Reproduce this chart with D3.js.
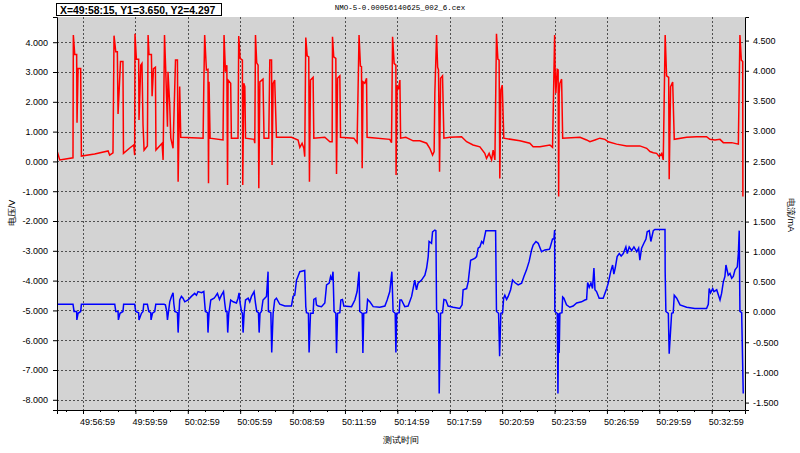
<!DOCTYPE html>
<html>
<head>
<meta charset="utf-8">
<script src="https://cdn.jsdelivr.net/npm/d3@7/dist/d3.min.js"></script>
<style>
  body { margin: 0; background: #fff; }
  svg text { font-family: "Liberation Sans", Arial, sans-serif; fill: #000; }
</style>
</head>
<body>
<div id="chart"></div>
<script>
// file name and cursor readout shown above the plot
var fileName = "NMO-5-0.00056140625_002_6.cex";
var cursorText = "X=49:58:15, Y1=3.650, Y2=4.297";

// x axis: test time, labels as printed
var timeTicks = ["49:56:59", "49:59:59", "50:02:59", "50:05:59", "50:08:59", "50:11:59", "50:14:59",
                 "50:17:59", "50:20:59", "50:23:59", "50:26:59", "50:29:59", "50:32:59"];
var voltTicks = [4, 3, 2, 1, 0, -1, -2, -3, -4, -5, -6, -7, -8];
var currTicks = [4.5, 4, 3.5, 3, 2.5, 2, 1.5, 1, 0.5, 0, -0.5, -1, -1.5];

// voltage (V): [minutes after 49:00:00, value]
var voltage = [
  [55.52,0.31],[55.65,0.05],[56.41,0.12],[56.43,4.24],[56.51,3.59],[56.62,3.59],[56.64,1.30],[56.70,3.12],
  [56.85,3.12],[56.89,0.18],[57.65,0.25],[58.42,0.35],[58.51,0.21],[58.70,0.29],[58.76,4.22],[58.86,3.68],
  [58.95,3.68],[58.99,1.59],[59.13,3.35],[59.27,3.35],[59.30,0.27],[59.66,0.45],[59.89,0.55],[59.94,0.21],
  [59.96,4.28],[60.04,3.43],[60.17,3.43],[60.19,1.39],[60.29,3.23],[60.36,3.29],[60.42,1.22],[60.48,0.38],
  [60.67,0.52],[60.71,4.24],[60.76,3.59],[60.90,3.59],[60.94,2.19],[61.02,3.11],[61.13,3.16],[61.16,0.38],
  [61.51,0.61],[61.57,0.05],[61.65,4.24],[61.72,3.07],[61.82,1.16],[61.85,3.01],[61.95,1.89],[62.01,0.78],
  [62.14,0.44],[62.28,3.40],[62.39,3.40],[62.43,-0.68],[62.52,2.51],[62.58,0.81],[63.86,0.78],[63.90,2.51],
  [63.95,4.24],[64.05,3.07],[64.14,3.09],[64.17,-0.73],[64.20,2.67],[64.26,0.78],[65.00,0.72],[65.06,4.24],
  [65.14,3.01],[65.22,3.23],[65.26,-0.79],[65.29,2.73],[65.44,2.62],[65.48,0.78],[65.86,0.78],[65.90,4.21],
  [65.98,3.46],[66.11,3.40],[66.13,-0.79],[66.19,2.62],[66.25,2.51],[66.29,0.78],[66.78,0.74],[66.82,0.61],
  [66.86,4.24],[66.93,3.31],[67.01,3.23],[67.05,-0.90],[67.11,2.67],[67.29,2.76],[67.35,0.78],[67.62,0.78],
  [67.68,3.40],[67.78,3.40],[67.81,-0.12],[67.87,2.62],[67.96,2.73],[68.06,0.81],[68.92,0.81],[69.30,0.72],
  [69.40,0.47],[69.53,0.61],[69.63,0.44],[69.68,0.16],[69.74,4.16],[69.82,3.54],[69.91,3.51],[69.95,-0.68],
  [70.01,2.73],[70.16,2.82],[70.20,0.78],[70.83,0.81],[71.12,0.66],[71.25,0.66],[71.27,4.18],[71.34,3.51],
  [71.46,3.46],[71.50,-0.42],[71.56,2.79],[71.69,2.87],[71.73,0.81],[72.49,0.78],[72.68,0.63],[72.79,4.24],
  [72.87,3.20],[72.93,3.18],[72.97,-0.23],[73.02,2.67],[73.12,2.62],[73.22,2.79],[73.25,0.81],[74.55,0.74],
  [74.65,0.63],[74.71,4.18],[74.80,3.29],[74.90,3.23],[74.91,-0.46],[74.97,2.51],[75.05,2.45],[75.13,2.73],
  [75.17,0.78],[75.47,0.81],[75.89,0.69],[76.27,0.69],[76.66,0.61],[76.84,0.44],[77.00,0.21],[77.09,0.33],
  [77.13,2.29],[77.23,4.24],[77.29,3.16],[77.34,3.07],[77.40,-0.35],[77.46,2.79],[77.57,2.87],[77.65,0.78],
  [77.99,0.81],[78.66,0.83],[78.95,0.66],[79.32,0.55],[79.71,0.49],[79.99,0.27],[80.09,0.10],[80.24,0.27],
  [80.38,0.05],[80.47,0.38],[80.57,0.05],[80.66,4.28],[80.74,3.43],[80.81,3.40],[80.85,-0.57],[80.91,2.40],
  [80.99,2.56],[81.08,0.78],[82.00,0.69],[82.57,0.61],[82.76,0.49],[83.15,0.49],[83.72,0.55],[83.87,0.47],
  [83.91,1.72],[83.99,4.24],[84.02,3.01],[84.06,2.29],[84.14,3.09],[84.19,3.07],[84.22,-1.18],[84.25,2.29],
  [84.29,2.62],[84.39,2.76],[84.45,0.78],[85.44,0.81],[85.82,0.72],[86.01,0.66],[86.30,0.72],[86.58,0.78],
  [86.87,0.74],[87.06,0.66],[87.54,0.58],[88.11,0.52],[88.87,0.52],[89.26,0.44],[89.45,0.33],[89.64,0.29],
  [89.83,0.27],[89.98,0.16],[90.12,0.27],[90.21,0.05],[90.32,4.24],[90.40,2.87],[90.52,2.82],[90.55,-0.60],
  [90.63,2.51],[90.75,2.66],[90.84,0.74],[91.55,0.81],[92.12,0.83],[92.69,0.83],[92.88,0.74],[93.17,0.72],
  [93.46,0.74],[93.65,0.63],[94.13,0.63],[94.51,0.58],[94.60,4.24],[94.68,3.40],[94.76,3.35],[94.77,-1.18]
];

// current (mA): [minutes after 49:00:00, value]
var current = [
  [55.52,0.13],[56.41,0.13],[56.47,0.01],[56.62,0.01],[56.63,-0.13],[56.70,-0.02],[56.85,0.01],[56.89,0.13],
  [58.80,0.13],[58.86,0.01],[58.99,0.01],[59.01,-0.13],[59.10,-0.02],[59.27,0.01],[59.31,0.13],[59.94,0.13],
  [60.00,0.01],[60.17,-0.01],[60.19,-0.13],[60.33,-0.02],[60.42,0.01],[60.46,0.13],[60.67,0.13],[60.75,0.01],
  [60.86,-0.01],[60.88,-0.13],[60.96,-0.02],[61.09,0.01],[61.15,0.13],[61.62,0.13],[61.70,0.12],[61.78,0.01],
  [61.82,-0.13],[61.89,0.03],[61.95,0.17],[62.05,0.26],[62.14,0.32],[62.18,0.15],[62.24,0.01],[62.39,-0.01],
  [62.43,-0.34],[62.48,-0.02],[62.52,0.20],[62.62,0.26],[62.71,0.23],[62.81,0.17],[63.00,0.20],[63.19,0.26],
  [63.38,0.31],[63.48,0.28],[63.57,0.34],[63.77,0.32],[63.90,0.34],[63.95,0.15],[63.99,0.01],[64.11,-0.01],
  [64.14,-0.34],[64.20,-0.02],[64.30,0.20],[64.49,0.23],[64.57,0.26],[64.68,0.31],[64.80,0.21],[64.91,0.28],
  [65.03,0.34],[65.10,0.15],[65.16,0.01],[65.23,0.01],[65.27,-0.34],[65.33,-0.02],[65.44,0.20],[65.58,0.17],
  [65.77,0.15],[65.86,0.23],[65.92,0.32],[65.98,0.15],[66.06,0.01],[66.11,-0.02],[66.15,-0.34],[66.21,-0.02],
  [66.29,0.20],[66.44,0.23],[66.53,0.17],[66.63,0.26],[66.78,0.34],[66.86,0.15],[66.93,0.01],[67.03,-0.01],
  [67.07,-0.34],[67.12,-0.02],[67.20,0.01],[67.29,0.20],[67.39,0.23],[67.49,0.26],[67.58,0.67],[67.60,0.01],
  [67.74,-0.01],[67.79,-0.67],[67.87,-0.02],[67.96,0.20],[68.06,0.23],[68.25,0.13],[68.54,0.10],[68.92,0.10],
  [69.01,0.26],[69.11,0.28],[69.21,0.53],[69.40,0.67],[69.68,0.69],[69.74,0.09],[69.78,-0.01],[69.89,-0.02],
  [69.93,-0.67],[70.01,-0.02],[70.16,-0.02],[70.20,0.21],[70.31,0.23],[70.35,0.12],[70.45,0.10],[70.64,0.09],
  [70.83,0.15],[70.93,0.45],[71.08,0.48],[71.16,0.59],[71.23,0.53],[71.30,0.67],[71.36,0.01],[71.46,-0.02],
  [71.50,-0.68],[71.56,-0.02],[71.69,-0.01],[71.75,0.20],[71.84,0.21],[71.92,0.10],[72.36,0.09],[72.55,0.20],
  [72.68,0.34],[72.79,0.67],[72.83,0.01],[72.97,-0.02],[73.01,-0.68],[73.06,-0.02],[73.22,-0.01],[73.28,0.21],
  [73.41,0.17],[73.60,0.09],[73.98,0.08],[74.27,0.10],[74.40,0.20],[74.55,0.34],[74.67,0.67],[74.74,0.01],
  [74.86,-0.02],[74.90,-0.67],[74.95,-0.02],[75.09,-0.01],[75.13,0.20],[75.22,0.20],[75.41,0.09],[75.60,0.10],
  [75.80,0.26],[75.98,0.53],[76.08,0.37],[76.17,0.48],[76.37,0.53],[76.56,0.61],[76.66,0.73],[76.75,0.92],
  [76.80,1.17],[76.94,1.14],[77.00,1.33],[77.13,1.36],[77.19,1.35],[77.23,0.01],[77.34,-0.02],[77.38,-1.35],
  [77.46,-0.02],[77.57,-0.01],[77.65,0.21],[77.76,0.20],[77.89,0.10],[78.18,0.08],[78.56,0.06],[78.69,0.12],
  [78.75,0.37],[78.95,0.39],[79.04,0.50],[79.18,0.86],[79.42,0.89],[79.52,0.92],[79.61,1.06],[79.71,1.08],
  [79.81,1.17],[79.90,1.14],[80.05,1.35],[80.61,1.35],[80.66,0.01],[80.78,-0.02],[80.84,-0.73],[80.91,-0.02],
  [81.01,-0.01],[81.07,0.23],[81.14,0.28],[81.24,0.21],[81.33,0.26],[81.47,0.37],[81.58,0.53],[81.71,0.49],
  [81.90,0.45],[82.10,0.48],[82.23,0.59],[82.38,0.70],[82.53,0.84],[82.67,1.03],[82.76,1.11],[82.92,1.17],
  [83.05,1.14],[83.24,1.00],[83.43,1.03],[83.68,1.04],[83.72,1.06],[83.87,1.21],[83.95,1.21],[83.99,1.36],
  [84.00,0.01],[84.14,-0.02],[84.18,-1.35],[84.22,-0.02],[84.25,-0.68],[84.29,-0.02],[84.41,-0.01],[84.45,0.25],
  [84.52,0.23],[84.67,0.12],[84.86,0.08],[85.05,0.10],[85.25,0.15],[85.53,0.17],[85.72,0.20],[85.82,0.21],
  [85.88,0.49],[85.97,0.41],[86.07,0.48],[86.16,0.39],[86.24,0.73],[86.30,0.37],[86.39,0.34],[86.54,0.23],
  [86.77,0.23],[86.97,0.39],[87.06,0.48],[87.20,0.67],[87.31,0.78],[87.38,0.63],[87.46,0.73],[87.57,0.92],
  [87.69,0.97],[87.80,0.93],[87.92,0.97],[88.07,1.08],[88.15,0.97],[88.26,1.08],[88.40,1.02],[88.53,1.08],
  [88.69,1.00],[88.80,1.06],[88.87,0.86],[88.97,1.06],[89.10,1.14],[89.22,1.21],[89.29,1.33],[89.41,1.35],
  [89.50,1.17],[89.64,1.35],[89.73,1.37],[90.31,1.37],[90.32,0.67],[90.36,0.01],[90.50,-0.02],[90.55,-0.69],
  [90.69,-0.02],[90.78,-0.01],[90.84,0.28],[90.98,0.23],[91.17,0.12],[91.55,0.08],[92.02,0.06],[92.69,0.06],
  [92.79,0.13],[92.84,0.39],[92.92,0.32],[93.04,0.39],[93.11,0.34],[93.27,0.37],[93.46,0.20],[93.55,0.31],
  [93.65,0.50],[93.74,0.59],[93.80,0.78],[93.93,0.61],[94.03,0.64],[94.13,0.56],[94.22,0.59],[94.32,0.70],
  [94.45,0.75],[94.51,0.97],[94.56,1.35],[94.60,0.01],[94.70,-0.01],[94.79,-1.35]
];

var W = 800, H = 453;
var plot = {left: 57, right: 745, top: 17, bottom: 410};

function toMin(s) {
  var p = s.split(":");
  return (+p[0] - 49) * 60 + (+p[1]) + (+p[2]) / 60;
}

var x = d3.scaleLinear().domain([55.494, 94.891]).range([plot.left, plot.right]);
var yL = d3.scaleLinear().domain([-8.342, 4.846]).range([plot.bottom, plot.top]);
var yR = d3.scaleLinear().domain([-1.623, 4.891]).range([plot.bottom, plot.top]);

var svg = d3.select("#chart").append("svg")
    .attr("width", W)
    .attr("height", H);

svg.append("rect").attr("width", W).attr("height", H).attr("fill", "#fff");

svg.append("clipPath").attr("id", "clip")
  .append("rect")
    .attr("x", plot.left).attr("y", plot.top)
    .attr("width", plot.right - plot.left).attr("height", plot.bottom - plot.top);

svg.append("rect")
    .attr("x", plot.left).attr("y", plot.top)
    .attr("width", plot.right - plot.left).attr("height", plot.bottom - plot.top)
    .attr("fill", "#d3d3d3");

// grid
var grid = svg.append("g").attr("clip-path", "url(#clip)");
grid.selectAll(".hg").data(voltTicks).enter().append("line")
    .attr("x1", plot.left).attr("x2", plot.right)
    .attr("y1", function(d) { return Math.round(yL(d)) + 0.5; })
    .attr("y2", function(d) { return Math.round(yL(d)) + 0.5; })
    .attr("stroke", "#505050").attr("stroke-dasharray", "2,2");
grid.selectAll(".vg").data(timeTicks).enter().append("line")
    .attr("y1", plot.top).attr("y2", plot.bottom)
    .attr("x1", function(d) { return Math.round(x(toMin(d))) + 0.5; })
    .attr("x2", function(d) { return Math.round(x(toMin(d))) + 0.5; })
    .attr("stroke", "#505050").attr("stroke-dasharray", "2,2");

// series
var lines = svg.append("g").attr("clip-path", "url(#clip)");
var vLine = d3.line().x(function(d) { return x(d[0]); }).y(function(d) { return yL(d[1]); });
var cLine = d3.line().x(function(d) { return x(d[0]); }).y(function(d) { return yR(d[1]); });

lines.append("path").datum(current)
    .attr("d", cLine).attr("fill", "none")
    .attr("stroke", "#0000ff").attr("stroke-width", 1.5);
lines.append("path").datum(voltage)
    .attr("d", vLine).attr("fill", "none")
    .attr("stroke", "#ff0000").attr("stroke-width", 1.5);

// axes
var fmt = function(d) { return d.toFixed(3); };

var gx = svg.append("g")
    .attr("transform", "translate(0," + plot.bottom + ")")
    .call(d3.axisBottom(x)
      .tickValues(timeTicks.map(toMin))
      .tickFormat(function(d, i) { return timeTicks[i]; })
      .tickSize(4).tickPadding(5));
gx.selectAll("text").attr("text-anchor", "start").attr("dx", -3.5).style("font-size", "9px");

// one-minute minor ticks
var minor = d3.range(Math.ceil(55.494 - 56.9833) + 56.9833, 94.891, 1);
svg.append("g").selectAll("line").data(minor).enter().append("line")
    .attr("x1", function(d) { return Math.round(x(d)) + 0.5; })
    .attr("x2", function(d) { return Math.round(x(d)) + 0.5; })
    .attr("y1", plot.bottom).attr("y2", plot.bottom + 2)
    .attr("stroke", "#000");

var gl = svg.append("g")
    .attr("transform", "translate(" + plot.left + ",0)")
    .call(d3.axisLeft(yL).tickValues(voltTicks).tickFormat(fmt).tickSize(4).tickPadding(5));
gl.selectAll("text").style("font-size", "9px");

var gr = svg.append("g")
    .attr("transform", "translate(" + plot.right + ",0)")
    .call(d3.axisRight(yR).tickValues(currTicks).tickFormat(fmt).tickSize(4).tickPadding(4));
gr.selectAll("text").style("font-size", "9px");

[gx, gl, gr].forEach(function(g) {
  g.select(".domain").attr("stroke", "#000");
  g.selectAll(".tick line").attr("stroke", "#000");
  g.selectAll(".tick text").attr("fill", "#000");
});

// titles
svg.append("text")
    .attr("x", 400).attr("y", 10)
    .attr("text-anchor", "middle")
    .style("font-family", "'Liberation Mono', monospace")
    .style("font-size", "7.5px")
    .text(fileName);

svg.append("rect")
    .attr("x", 56.5).attr("y", 3.5).attr("width", 165).attr("height", 12)
    .attr("fill", "#fff").attr("stroke", "#000");
svg.append("text")
    .attr("x", 60).attr("y", 13.5)
    .style("font-size", "10.4px").style("font-weight", "bold")
    .text(cursorText);

svg.append("text")
    .attr("transform", "translate(15,213) rotate(-90)")
    .attr("text-anchor", "middle")
    .attr("fill", "#000")
    .style("font-size", "9px")
    .text("电压/V");

svg.append("text")
    .attr("transform", "translate(788,215) rotate(90)")
    .attr("text-anchor", "middle")
    .attr("fill", "#000")
    .style("font-size", "9px")
    .text("电流/mA");

svg.append("text")
    .attr("x", 401).attr("y", 443)
    .attr("text-anchor", "middle")
    .attr("fill", "#000")
    .style("font-size", "9px")
    .text("测试时间");
</script>
</body>
</html>
